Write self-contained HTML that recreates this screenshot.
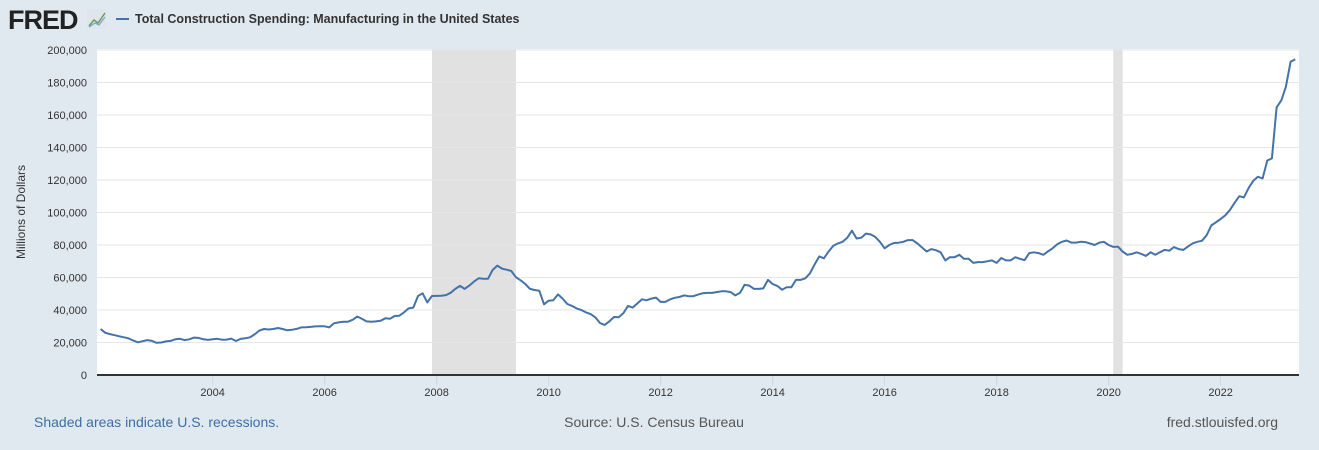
<!DOCTYPE html>
<html><head><meta charset="utf-8"><style>
body{margin:0;width:1319px;height:450px;background:#e1e9f0;font-family:"Liberation Sans",sans-serif;overflow:hidden}
svg{position:absolute;left:0;top:0}
</style></head><body>
<svg width="1319" height="450">
<text x="8" y="29" font-size="27" font-weight="bold" fill="#222" letter-spacing="-1">FRED</text>
<g><rect x="87" y="9" width="19" height="20" fill="#dfe5ea"/><polyline points="89,26 94,20 98,23 105,13" fill="none" stroke="#6a9c5a" stroke-width="1.5"/><polyline points="89,27 95,23 99,25 105,17" fill="none" stroke="#7aa2c8" stroke-width="1.2"/></g>
<line x1="116" y1="19" x2="129" y2="19" stroke="#4572a7" stroke-width="2"/>
<text x="135" y="23" font-size="12.5" font-weight="bold" fill="#333">Total Construction Spending: Manufacturing in the United States</text>
<rect x="97" y="49" width="1202" height="326" fill="#fff"/>
<g id="rec"></g><g id="grid"></g><g id="ylab"></g><g id="xlab"></g>
<line x1="97" y1="375" x2="1299" y2="375" stroke="#333" stroke-width="2"/>
<path id="series" fill="none" stroke="#4572a7" stroke-width="2" stroke-linejoin="round"/>
<text transform="translate(25,212) rotate(-90)" text-anchor="middle" font-size="12" fill="#333">Millions of Dollars</text>
<text x="34" y="427" font-size="14" fill="#3c6ea5">Shaded areas indicate U.S. recessions.</text>
<text x="654" y="427" font-size="14" fill="#555" text-anchor="middle">Source: U.S. Census Bureau</text>
<text x="1278" y="427" font-size="14" fill="#555" text-anchor="end">fred.stlouisfed.org</text>
</svg>
<script>
const startYear = 2002;
const values = [
28.3,26,25.2,24.5,23.8,23.2,22.5,21.2,20.1,20.8,21.5,21,
19.8,20,20.7,21,22,22.3,21.5,22,23,22.8,22,21.6,
22,22.3,21.7,21.8,22.4,20.9,22.2,22.6,23.2,25,27.3,28.3,
28,28.3,28.9,28.3,27.5,27.8,28.4,29.3,29.4,29.6,29.9,30,
30,29.3,31.8,32.4,32.8,32.8,34,36,34.5,33,32.8,33,
33.4,34.9,34.6,36.3,36.5,38.5,41,41.5,48.6,50.3,44.7,48.6,
48.7,48.8,49.2,50.6,53,54.8,53,55,57.5,59.5,59.2,59.2,
64.6,67.3,65.5,64.8,64,60.1,58.3,56,53,52.3,51.9,43.5,
45.7,46,49.6,47,43.7,42.5,41,40,38.5,37.5,35.5,32,
30.8,33,35.7,35.5,38,42.5,41.5,44,46.6,46,47,47.6,
45,45,46.5,47.5,48,49,48.5,48.5,49.5,50.3,50.5,50.5,
51,51.5,51.5,51,49,50.5,55.5,55,53,53,53.3,58.5,
56,54.8,52.5,54,54,58.5,58.5,59.5,62.5,68,73,71.8,
76,79.5,81,82,84.5,88.8,84,84.5,87,86.5,85,82,
78,80,81.2,81.4,82,83,83,81,78.5,76,77.5,76.8,
75.5,70.5,72.5,72.5,74,71.5,71.5,69,69.5,69.5,70,70.5,
69,72,70.5,70.5,72.5,71.5,70.7,75,75.5,75,74,76,
78,80.5,82,82.8,81.5,81.5,82,81.8,81,80,81.5,82,
80,78.8,79,76,74,74.5,75.5,74.5,73.3,75.5,74,75.5,
77,76.5,78.7,77.5,77,79,81,82,82.6,86,92,94,
96,98.3,101.5,106,110,109.3,115,119.5,122,121,132,133.3,
164.7,169,177.4,192.8,194.2].map(v=>v*1000);
const yTicks = [0,20000,40000,60000,80000,100000,120000,140000,160000,180000,200000];
const xTicks = [2004,2006,2008,2010,2012,2014,2016,2018,2020,2022];
const recessions = [[2007.917,2009.417],[2020.083,2020.25]];
const NS='http://www.w3.org/2000/svg';
const X0=97,X1=1299,T0=2001.935,T1=2023.40,YB=375,YT=50;
const xs=t=>X0+(t-T0)/(T1-T0)*(X1-X0);
const ys=v=>YB-v/200000*(YB-YT);
function mk(tag,attrs,parent){const e=document.createElementNS(NS,tag);for(const k in attrs)e.setAttribute(k,attrs[k]);document.getElementById(parent).appendChild(e);return e;}
recessions.forEach(r=>{const e=mk('rect',{x:xs(r[0]),y:49,width:xs(r[1])-xs(r[0]),height:326,fill:'#e1e1e1'},'rec');

});
yTicks.forEach(v=>{if(v>0){const g=mk('line',{x1:X0,x2:X1,y1:ys(v),y2:ys(v),stroke:'#e6e6e6','stroke-width':1},'grid');

}
const t=mk('text',{x:87,y:ys(v)+4,'text-anchor':'end','font-size':11,fill:'#333'},'ylab');t.textContent=v.toLocaleString('en-US');

});
xTicks.forEach(yr=>{const x=xs(yr);const l=mk('line',{x1:x,x2:x,y1:375,y2:385,stroke:'#ccd6eb'},'xlab');


const t=mk('text',{x:x,y:396,'text-anchor':'middle','font-size':11,fill:'#333'},'xlab');t.textContent=yr;

});
document.getElementById('series').setAttribute('d',values.map((v,i)=>(i?'L':'M')+xs(startYear+i/12).toFixed(1)+','+ys(v).toFixed(1)).join(''));
</script>
</body></html>
